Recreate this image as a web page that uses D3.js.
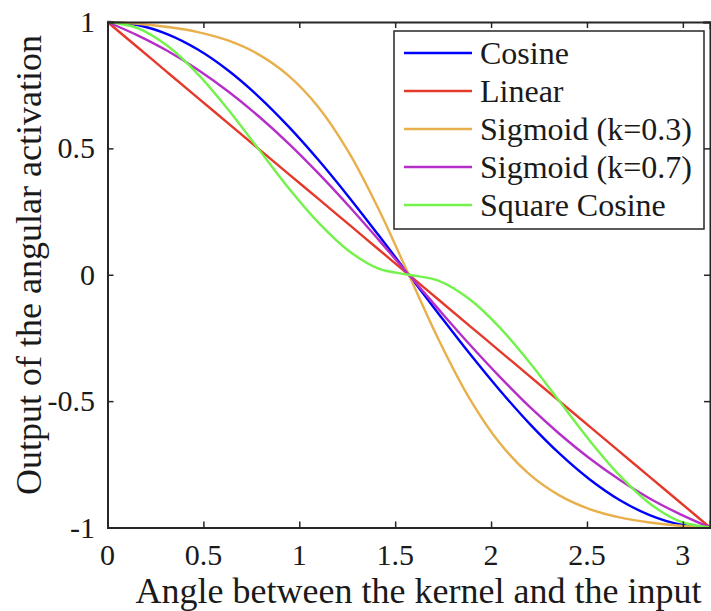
<!DOCTYPE html>
<html>
<head>
<meta charset="utf-8">
<script src="https://cdn.jsdelivr.net/npm/d3@7"></script>
<style>
  html, body { margin: 0; padding: 0; background: #fff; }
  svg { display: block; }
  text { font-family: "Liberation Serif", "Times New Roman", serif; fill: #1a1a1a; }
</style>
</head>
<body>
<svg id="chart" width="711" height="611"></svg>
<script>
// ---- data ----
const angles = [0, 0.157, 0.314, 0.471, 0.628, 0.785, 0.942, 1.100, 1.257, 1.414, 1.571,
                1.728, 1.885, 2.042, 2.199, 2.356, 2.513, 2.670, 2.827, 2.985, 3.1416];
const cosineVals = [1, 0.988, 0.951, 0.891, 0.809, 0.707, 0.588, 0.454, 0.309, 0.156, 0,
                    -0.156, -0.309, -0.454, -0.588, -0.707, -0.809, -0.891, -0.951, -0.988, -1];
const linearVals = [1, 0.9, 0.8, 0.7, 0.6, 0.5, 0.4, 0.3, 0.2, 0.1, 0,
                    -0.1, -0.2, -0.3, -0.4, -0.5, -0.6, -0.7, -0.8, -0.9, -1];
const sigmoid03Vals = [1, 0.993, 0.980, 0.960, 0.927, 0.873, 0.789, 0.663, 0.486, 0.259, 0,
                       -0.259, -0.486, -0.663, -0.789, -0.873, -0.927, -0.960, -0.980, -0.993, -1];
const sigmoid07Vals = [1, 0.947, 0.885, 0.811, 0.726, 0.629, 0.521, 0.401, 0.273, 0.138, 0,
                       -0.138, -0.273, -0.401, -0.521, -0.629, -0.726, -0.811, -0.885, -0.947, -1];
const squareCosVals = [1, 0.976, 0.905, 0.794, 0.655, 0.5, 0.345, 0.206, 0.095, 0.024, 0,
                       -0.024, -0.095, -0.206, -0.345, -0.5, -0.655, -0.794, -0.905, -0.976, -1];
const seriesNames = ["Cosine", "Linear", "Sigmoid (k=0.3)", "Sigmoid (k=0.7)", "Square Cosine"];
const seriesColors = ["#0000ff", "#e5392b", "#e8b04c", "#b52ec8", "#72f24a"];
const xTicks = [0, 0.5, 1, 1.5, 2, 2.5, 3];
const yTicks = [-1, -0.5, 0, 0.5, 1];
const xLabel = "Angle between the kernel and the input";
const yLabel = "Output of the angular activation";

const seriesVals = [cosineVals, linearVals, sigmoid03Vals, sigmoid07Vals, squareCosVals];

// ---- layout ----
const svg = d3.select("#chart");
const pLeft = 107.5, pRight = 710, pTop = 22, pBottom = 527.5;
const x = d3.scaleLinear().domain([0, Math.PI]).range([pLeft, pRight]);
const y = d3.scaleLinear().domain([-1, 1]).range([pBottom, pTop]);
const axisColor = "#262626";

// curves
const line = d3.line().x(d => x(d[0])).y(d => y(d[1])).curve(d3.curveCatmullRom.alpha(0.5));
const gLines = svg.append("g");
[1, 0, 2, 3, 4].forEach(i => {
  gLines.append("path")
    .datum(angles.map((a, j) => [a, seriesVals[i][j]]))
    .attr("d", line)
    .attr("fill", "none")
    .attr("stroke", seriesColors[i])
    .attr("stroke-width", 2.4)
    .attr("stroke-linejoin", "round");
});

// axes box with inward ticks
const tickLen = 6;
const tickFont = 30;
const axB = d3.axisBottom(x).tickValues(xTicks).tickSize(-tickLen).tickFormat("");
const axT = d3.axisTop(x).tickValues(xTicks).tickSize(-tickLen).tickFormat("");
const axL = d3.axisLeft(y).tickValues(yTicks).tickSize(-tickLen).tickFormat("");
const axR = d3.axisRight(y).tickValues(yTicks).tickSize(-tickLen).tickFormat("");
function style(g) {
  g.selectAll("path").attr("stroke", axisColor).attr("stroke-width", 2);
  g.selectAll("line").attr("stroke", axisColor).attr("stroke-width", 1.5);
}
svg.append("g").attr("transform", `translate(0,${pBottom})`).call(axB).call(style);
svg.append("g").attr("transform", `translate(0,${pTop})`).call(axT).call(style);
svg.append("g").attr("transform", `translate(${pLeft},0)`).call(axL).call(style);
svg.append("g").attr("transform", `translate(${pRight},0)`).call(axR).call(style);
svg.selectAll(".domain").attr("stroke-linecap", "square");

// tick labels
svg.append("g").selectAll("text").data(xTicks).join("text")
  .attr("x", d => x(d)).attr("y", 565)
  .attr("text-anchor", "middle").attr("font-size", tickFont)
  .text(d => d);
svg.append("g").selectAll("text").data(yTicks).join("text")
  .attr("x", 95).attr("y", d => y(d) + 10)
  .attr("text-anchor", "end").attr("font-size", tickFont)
  .text(d => d);

// axis titles
svg.append("text").attr("x", 418.5).attr("y", 603)
  .attr("text-anchor", "middle").attr("font-size", 36).text(xLabel);
svg.append("text").attr("transform", "translate(41,265) rotate(-90)")
  .attr("text-anchor", "middle").attr("font-size", 36).text(yLabel);

// legend
const lg = svg.append("g");
lg.append("rect").attr("x", 394).attr("y", 31).attr("width", 310).attr("height", 198)
  .attr("fill", "#fff").attr("stroke", axisColor).attr("stroke-width", 1.5);
seriesNames.forEach((n, i) => {
  const cy = 53 + i * 38;
  lg.append("line").attr("x1", 404).attr("x2", 472).attr("y1", cy).attr("y2", cy)
    .attr("stroke", seriesColors[i]).attr("stroke-width", 2.4);
  lg.append("text").attr("x", 480).attr("y", cy + 11).attr("font-size", 32).text(n);
});
</script>
</body>
</html>
